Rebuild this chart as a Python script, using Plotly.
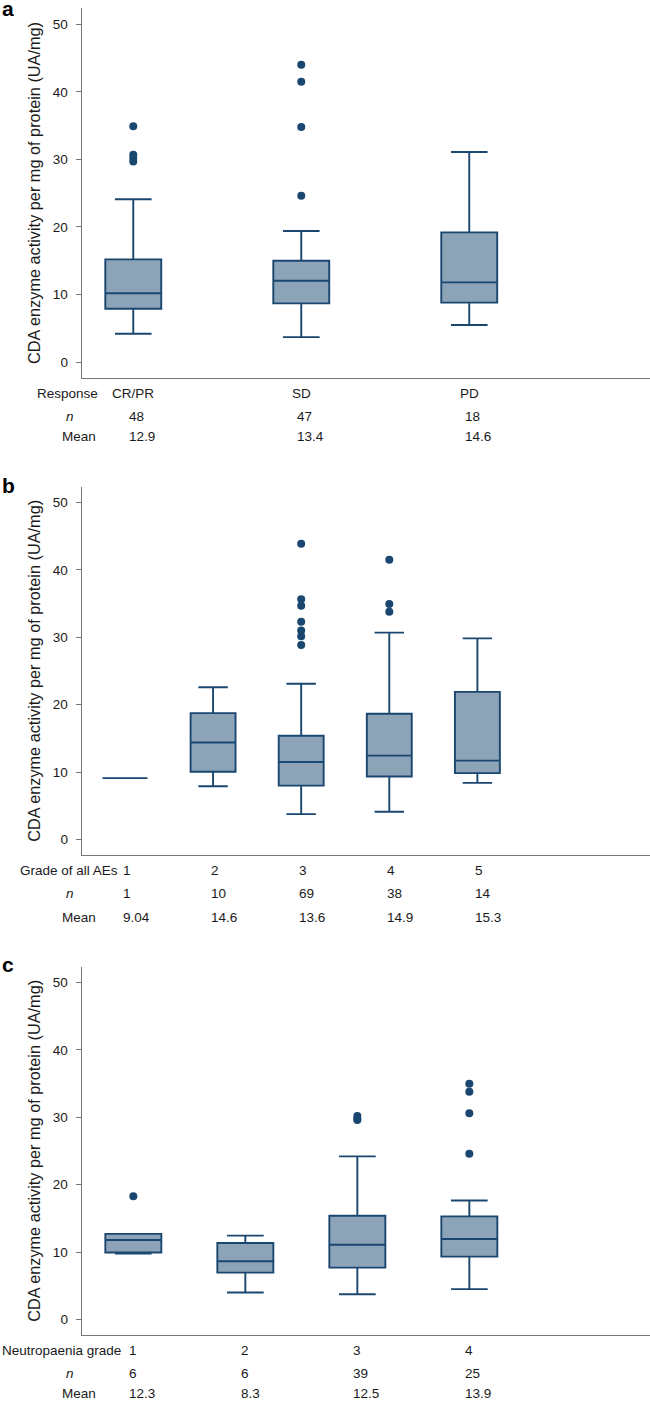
import plotly.graph_objects as go
import numpy as np

# ---------------- data ----------------
# Panel a: response
cats_a = ["CR/PR", "SD", "PD"]
q1_a = [7.9, 8.7, 8.8]
med_a = [10.2, 12.05, 11.8]
q3_a = [15.2, 15.0, 19.2]
lo_a = [4.2, 3.7, 5.5]
hi_a = [24.1, 19.4, 31.1]
out_a = [[34.9, 30.7, 30.2, 29.7], [44.0, 41.5, 34.8, 24.6], []]
n_a = ["48", "47", "18"]
mean_a = ["12.9", "13.4", "14.6"]

# Panel b: grade of all AEs
cats_b = ["1", "2", "3", "4", "5"]
q1_b = [9.1, 10.05, 8.0, 9.35, 9.85]
med_b = [9.1, 14.4, 11.5, 12.45, 11.7]
q3_b = [9.1, 18.75, 15.4, 18.65, 21.9]
lo_b = [9.1, 7.9, 3.77, 4.12, 8.4]
hi_b = [9.1, 22.6, 23.1, 30.7, 29.85]
out_b = [[], [], [43.9, 35.65, 34.7, 32.3, 31.0, 30.15, 28.85], [41.5, 34.95, 33.8], []]
n_b = ["1", "10", "69", "38", "14"]
mean_b = ["9.04", "14.6", "13.6", "14.9", "15.3"]

# Panel c: neutropaenia grade
cats_c = ["1", "2", "3", "4"]
q1_c = [9.95, 6.95, 7.7, 9.33]
med_c = [11.8, 8.65, 11.1, 11.95]
q3_c = [12.7, 11.35, 15.4, 15.3]
lo_c = [9.8, 4.0, 3.75, 4.5]
hi_c = [12.7, 12.45, 24.2, 17.65]
out_c = [[18.3], [], [30.2, 29.8, 29.6], [35.0, 33.8, 30.6, 24.6]]
n_c = ["6", "6", "39", "25"]
mean_c = ["12.3", "8.3", "12.5", "13.9"]

row_labels = ["Response", "Grade of all AEs", "Neutropaenia grade"]
panel_letters = ["a", "b", "c"]
ytitle = "CDA enzyme activity per mg of protein (UA/mg)"
yticks = [0, 10, 20, 30, 40, 50]

# ---------------- style ----------------
W, H = 650, 1401
NAVY = "#1A476F"
FILL = "#8DA3B8"
AXC = "#777777"
TXT = "#1a1a1a"
FONT = "Liberation Sans, Arial, Helvetica, sans-serif"
FS = 13.5

X_LEFT = 81.7
panels = [
    dict(cats=cats_a, q1=q1_a, med=med_a, q3=q3_a, lo=lo_a, hi=hi_a, out=out_a,
         n=n_a, mean=mean_a, top=8.3, bottom=377.7, xr=[-0.307, 3.076], bw=0.333,
         label_left=35.0, nshift=-6, cat_center=True, rows=[393.3, 416.0, 436.7]),
    dict(cats=cats_b, q1=q1_b, med=med_b, q3=q3_b, lo=lo_b, hi=hi_b, out=out_b,
         n=n_b, mean=mean_b, top=486.7, bottom=855.0, xr=[-0.491, 5.959], bw=0.51,
         label_left=18.3, nshift=-4, cat_center=False, rows=[870.7, 893.3, 917.5]),
    dict(cats=cats_c, q1=q1_c, med=med_c, q3=q3_c, lo=lo_c, hi=hi_c, out=out_c,
         n=n_c, mean=mean_c, top=966.7, bottom=1335.0, xr=[-0.461, 4.613], bw=0.5,
         label_left=0.0, nshift=-6, cat_center=False, rows=[1350.7, 1373.0, 1393.0]),
]
letter_y = [8.0, 486.0, 965.0]

def py(px):
    return 1 - px / H

fig = go.Figure()
annotations = []
layout = {}

for i, p in enumerate(panels):
    k = "" if i == 0 else str(i + 1)
    xa, ya = "x" + k, "y" + k
    pos = list(np.arange(len(p["cats"])))
    fig.add_trace(go.Box(
        x=pos, q1=p["q1"], median=p["med"], q3=p["q3"],
        lowerfence=p["lo"], upperfence=p["hi"],
        width=p["bw"], whiskerwidth=0.655, boxpoints=False,
        fillcolor=FILL, line=dict(color=NAVY, width=1.9),
        xaxis=xa, yaxis=ya, showlegend=False, hoverinfo="skip"))
    ox, oy = [], []
    for j, vals in enumerate(p["out"]):
        for v in vals:
            ox.append(pos[j])
            oy.append(v)
    fig.add_trace(go.Scatter(
        x=ox, y=oy, mode="markers",
        marker=dict(color=NAVY, size=8),
        xaxis=xa, yaxis=ya, showlegend=False, hoverinfo="skip"))

    layout["xaxis" + k] = dict(
        domain=[X_LEFT / W, 1], range=p["xr"], anchor=ya,
        showline=True, linecolor=AXC, linewidth=1.2, showgrid=False,
        zeroline=False, showticklabels=False, ticks="", fixedrange=True)
    layout["yaxis" + k] = dict(
        domain=[py(p["bottom"]), py(p["top"])], range=[-2.3, 52.35], anchor=xa,
        showline=True, linecolor=AXC, linewidth=1.2, showgrid=False,
        zeroline=False, tickvals=yticks, ticks="outside", ticklen=5,
        tickcolor=AXC, tickwidth=1.2, ticklabelstandoff=5,
        tickfont=dict(size=FS, color=TXT, family=FONT),
        title=dict(text=ytitle, font=dict(size=16.3, color=TXT, family=FONT), standoff=8),
        fixedrange=True)

    r = p["rows"]
    tf = dict(size=FS, color=TXT, family=FONT)
    annotations.append(dict(text=row_labels[i], xref="paper", yref="paper",
                            x=p["label_left"] / W, y=py(r[0]), xanchor="left",
                            yanchor="middle", showarrow=False, font=tf))
    annotations.append(dict(text="<i>n</i>", xref="paper", yref="paper",
                            x=64.0 / W, y=py(r[1]), xanchor="left",
                            yanchor="middle", showarrow=False, font=tf))
    annotations.append(dict(text="Mean", xref="paper", yref="paper",
                            x=60.0 / W, y=py(r[2]), xanchor="left",
                            yanchor="middle", showarrow=False, font=tf))
    for j, c in enumerate(p["cats"]):
        if p["cat_center"]:
            annotations.append(dict(text=c, xref=xa, yref="paper", x=pos[j], y=py(r[0]),
                                    xanchor="center", yanchor="middle", showarrow=False,
                                    font=tf))
        else:
            annotations.append(dict(text=c, xref=xa, yref="paper", x=pos[j], y=py(r[0]),
                                    xanchor="left", yanchor="middle", xshift=p["nshift"],
                                    showarrow=False, font=tf))
        annotations.append(dict(text=p["n"][j], xref=xa, yref="paper", x=pos[j],
                                y=py(r[1]), xanchor="left", yanchor="middle",
                                xshift=p["nshift"], showarrow=False, font=tf))
        annotations.append(dict(text=p["mean"][j], xref=xa, yref="paper", x=pos[j],
                                y=py(r[2]), xanchor="left", yanchor="middle",
                                xshift=p["nshift"], showarrow=False, font=tf))
    annotations.append(dict(text="<b>" + panel_letters[i] + "</b>", xref="paper",
                            yref="paper", x=0, y=py(letter_y[i]), xanchor="left",
                            yanchor="middle", showarrow=False,
                            font=dict(size=21, color="#000000", family=FONT)))

fig.update_layout(
    width=W, height=H, margin=dict(l=0, r=0, t=0, b=0),
    paper_bgcolor="white", plot_bgcolor="white",
    font=dict(family=FONT, color=TXT), annotations=annotations,
    boxmode="overlay", **layout)

fig.write_html("out.html", config={"displayModeBar": False},
               post_script="document.body.style.margin='0';")
